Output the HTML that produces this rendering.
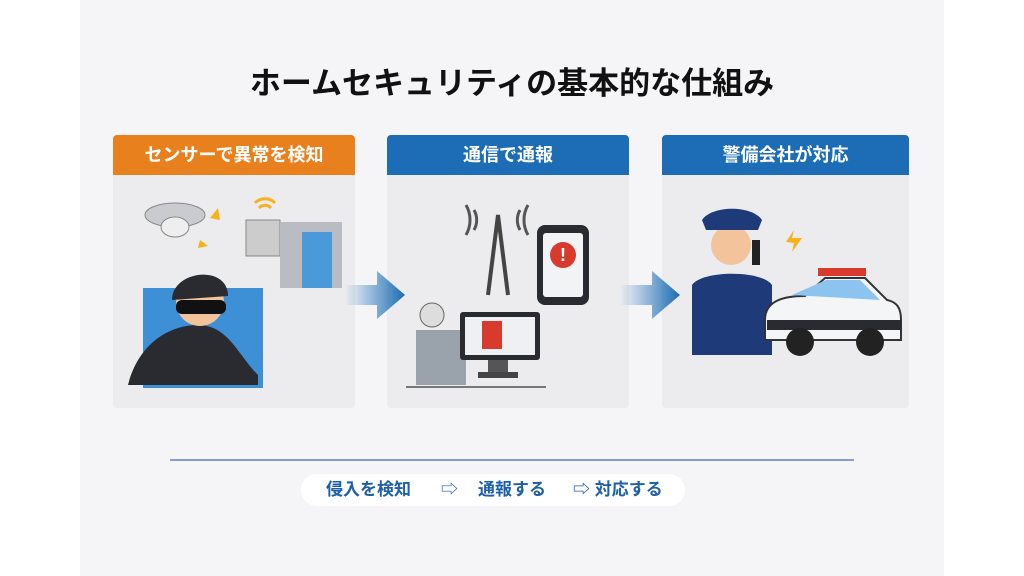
<!DOCTYPE html>
<html><head><meta charset="utf-8"><style>
body{margin:0;width:1024px;height:576px;background:#fff;position:relative;overflow:hidden;font-family:"Liberation Sans","Noto Sans CJK JP",sans-serif}
.bg{position:absolute;left:80px;top:0;width:864px;height:576px;background:#f5f5f7}
.t{position:absolute;left:0;width:1024px;top:58px;text-align:center;font-size:31px;font-weight:bold;color:#111}
.card{position:absolute;top:135px;height:273px;background:#ececee;border-radius:4px}
.hd{height:40px;line-height:40px;text-align:center;color:#fff;font-weight:bold;font-size:18px;border-radius:4px 4px 0 0}
svg{position:absolute}
.line{position:absolute;left:170px;top:459px;width:684px;height:2px;background:#7f9fd6}
.pill{position:absolute;left:301px;top:474px;width:384px;height:32px;background:#fff;border-radius:16px;color:#1d5fa8;font-weight:bold;font-size:17px;line-height:32px}
.pill span{position:absolute}
</style></head><body>
<div class="bg"></div>
<div class="t">ホームセキュリティの基本的な仕組み</div>
<div class="card" style="left:113px;width:242px"><div class="hd" style="background:#e9801e">センサーで異常を検知</div></div>
<div class="card" style="left:387px;width:242px"><div class="hd" style="background:#1c6db5">通信で通報</div></div>
<div class="card" style="left:662px;width:247px"><div class="hd" style="background:#1c6db5">警備会社が対応</div></div>
<svg width="1024" height="576" style="left:0;top:0">
<defs><linearGradient id="g" x1="0" x2="1"><stop offset="0" stop-color="#1c6db5" stop-opacity="0"/><stop offset="1" stop-color="#1c6db5"/></linearGradient></defs>
<path d="M345 285h32v-14l28 24-28 24v-14h-32z" fill="url(#g)"/>
<path d="M620 285h32v-14l28 24-28 24v-14h-32z" fill="url(#g)"/>
<ellipse cx="175" cy="215" rx="30" ry="12" fill="#c9cbd0" stroke="#888"/>
<ellipse cx="175" cy="227" rx="14" ry="10" fill="#eee" stroke="#888"/>
<path d="M210 218l8-10 2 12z M200 240l8 6-10 2z" fill="#f5b21a"/>
<path d="M255 203a14 14 0 0 1 20 0M259 208a8 8 0 0 1 12 0" stroke="#f5b21a" stroke-width="3" fill="none"/>
<rect x="246" y="220" width="34" height="36" fill="#ccc" stroke="#888"/>
<rect x="280" y="222" width="62" height="66" fill="#b9bdc3"/>
<rect x="302" y="232" width="30" height="56" fill="#4a9ad9"/>
<rect x="143" y="288" width="120" height="100" fill="#3d8fd6"/>
<path d="M128 385c10-40 40-60 70-60s40 30 60 50v10z" fill="#2a2b30"/>
<circle cx="200" cy="302" r="24" fill="#f3c49b"/>
<path d="M172 300c0-30 56-36 56-4z" fill="#2a2b30"/>
<rect x="176" y="300" width="50" height="14" rx="6" fill="#111"/>
<path d="M488 295l10-80 10 80" stroke="#444" stroke-width="4" fill="none"/>
<path d="M466 205a30 30 0 0 1 0 30M528 205a30 30 0 0 0 0 30M474 210a20 20 0 0 1 0 20M520 210a20 20 0 0 0 0 20" stroke="#555" stroke-width="3" fill="none"/>
<rect x="537" y="225" width="52" height="80" rx="8" fill="#2a2b30"/>
<rect x="543" y="233" width="40" height="64" rx="3" fill="#f1f3f5"/>
<circle cx="563" cy="255" r="13" fill="#d83a2e"/>
<text x="563" y="261" font-size="18" font-weight="bold" fill="#fff" text-anchor="middle" font-family="Liberation Sans">!</text>
<rect x="416" y="330" width="50" height="55" fill="#9aa2ab"/>
<circle cx="432" cy="315" r="12" fill="#ddd" stroke="#666"/>
<rect x="460" y="312" width="80" height="48" rx="3" fill="#2a2b30"/>
<rect x="465" y="317" width="70" height="38" fill="#eef0f3"/>
<rect x="482" y="321" width="20" height="28" fill="#d83a2e"/>
<rect x="488" y="360" width="20" height="12" fill="#555"/>
<rect x="478" y="372" width="40" height="6" fill="#444"/>
<rect x="406" y="386" width="140" height="2" fill="#777"/>
<path d="M692 355v-70c10-15 70-15 80 0v70z" fill="#1f3a78"/>
<circle cx="731" cy="245" r="20" fill="#f3c49b"/>
<path d="M702 220c10-15 50-15 60 0l-4 10h-52z" fill="#1f3a78"/>
<rect x="752" y="240" width="8" height="25" fill="#222"/>
<path d="M786 242l8-12-2 8 10 0-10 14 2-9z" fill="#f5b21a"/>
<rect x="818" y="268" width="48" height="8" fill="#d83a2e"/>
<path d="M765 320c0-20 20-24 40-24l20-18h40l22 22c10 2 14 8 14 20v20h-136z" fill="#f4f5f7" stroke="#333" stroke-width="2"/>
<path d="M792 295l34-15h34l20 20z" fill="#8cc3ef"/>
<rect x="767" y="320" width="134" height="10" fill="#2a2b30"/>
<circle cx="800" cy="342" r="14" fill="#222"/><circle cx="870" cy="342" r="14" fill="#222"/>
</svg>
<div class="line"></div>
<div class="pill"><span style="left:25px">侵入を検知</span><span style="left:140px;font-weight:normal">⇨</span><span style="left:177px">通報する</span><span style="left:272px">⇨ 対応する</span></div>
</body></html>
